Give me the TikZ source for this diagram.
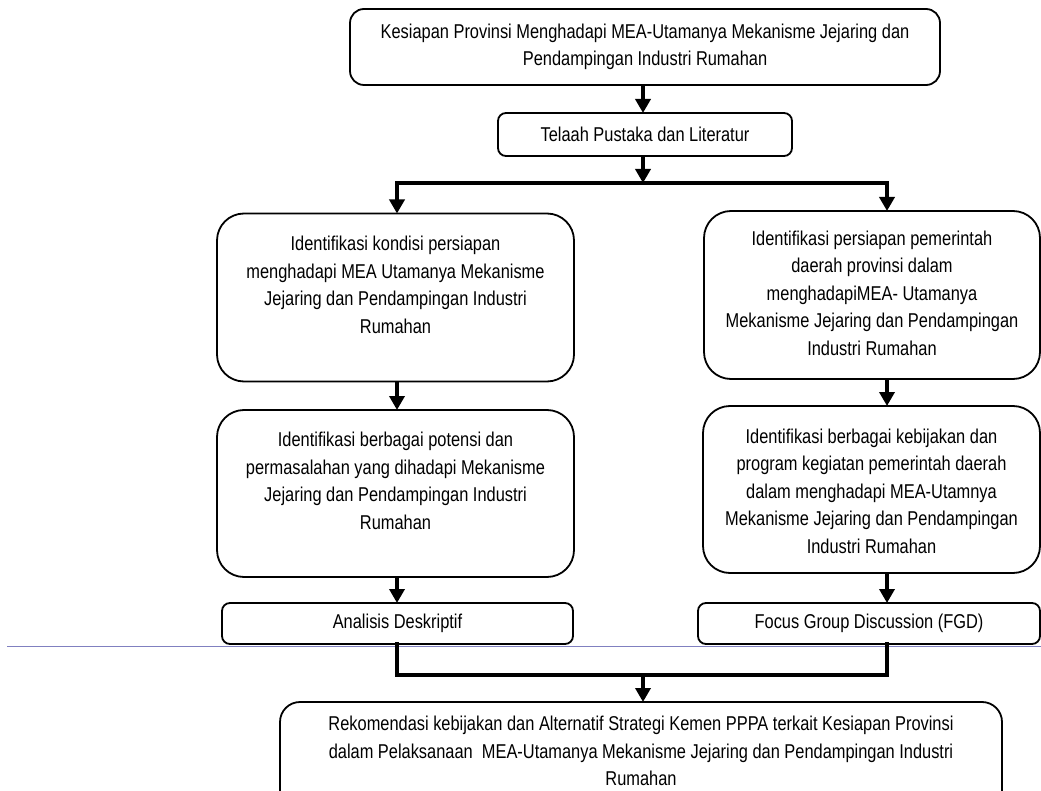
\documentclass[tikz,border=0pt]{standalone}
\usepackage{fontspec}
\setmainfont{Liberation Sans}[FakeStretch=0.82]
\usetikzlibrary{arrows.meta,calc}
\definecolor{garisungu}{RGB}{128,128,192}
\begin{document}
\begin{tikzpicture}[x=1pt,y=-1pt,
  kotak/.style={draw=black, line width=1.8pt, inner sep=0pt, outer sep=0pt},
  teks/.style={align=center, inner sep=0pt, font=\fontsize{20pt}{27.5pt}\selectfont},
  panah/.style={line width=4pt, -{Triangle[length=14pt,width=15pt]}},
  garis/.style={line width=4pt, line cap=rect},
]
\useasboundingbox (0,0) rectangle (1041,791);
\clip (0,0) rectangle (1041,791);

% thin separator line across the page
\coordinate (biruA) at (7,646.5);
\coordinate (biruB) at (1041,646.5);
\draw[garisungu, line width=1.3pt] (biruA) -- (biruB);

% boxes
\node[kotak, teks, rounded corners=14pt, minimum width=590pt, minimum height=76pt] (mulai) at (645,47)
  {Kesiapan Provinsi Menghadapi MEA-Utamanya Mekanisme Jejaring dan\\Pendampingan Industri Rumahan};
\node[kotak, teks, rounded corners=8pt, minimum width=294pt, minimum height=43pt] (telaah) at (645,134.5)
  {Telaah Pustaka dan Literatur};

\node[kotak, rounded corners=27pt, minimum width=357pt, minimum height=168pt] (kiri1) at (395.5,297.5) {};
\node[teks] (kiri1t) at (395.5,285)
  {Identifikasi kondisi persiapan\\menghadapi MEA Utamanya Mekanisme\\Jejaring dan Pendampingan Industri\\Rumahan};

\node[kotak, rounded corners=27pt, minimum width=336pt, minimum height=168pt] (kanan1) at (872,295) {};
\node[teks] (kanan1t) at (872,293)
  {Identifikasi persiapan pemerintah\\daerah provinsi dalam\\menghadapiMEA- Utamanya\\Mekanisme Jejaring dan Pendampingan\\Industri Rumahan};

\node[kotak, rounded corners=27pt, minimum width=357pt, minimum height=167pt] (kiri2) at (395.5,493.5) {};
\node[teks] (kiri2t) at (395.5,481)
  {Identifikasi berbagai potensi dan\\permasalahan yang dihadapi Mekanisme\\Jejaring dan Pendampingan Industri\\Rumahan};

\node[kotak, rounded corners=27pt, minimum width=337pt, minimum height=167pt] (kanan2) at (871.5,489.5) {};
\node[teks] (kanan2t) at (871.5,491)
  {Identifikasi berbagai kebijakan dan\\program kegiatan pemerintah daerah\\dalam menghadapi MEA-Utamnya\\Mekanisme Jejaring dan Pendampingan\\Industri Rumahan};

\node[kotak, teks, rounded corners=8pt, minimum width=351pt, minimum height=41pt] (analisis) at (397.5,623.5)
  {Analisis Deskriptif};
\node[kotak, teks, rounded corners=8pt, minimum width=342pt, minimum height=41pt] (fgd) at (869,623.5)
  {Focus Group Discussion (FGD)};

\node[kotak, rounded corners=20pt, minimum width=722pt, minimum height=118pt] (bawah) at (641,761) {};
\node[teks] (bawaht) at (641,751)
  {Rekomendasi kebijakan dan Alternatif Strategi Kemen PPPA terkait Kesiapan Provinsi\\dalam Pelaksanaan\ \ MEA-Utamanya Mekanisme Jejaring dan Pendampingan Industri\\Rumahan};

% connector junctions
\coordinate (cL) at (397,183);
\coordinate (cM) at (643,183);
\coordinate (cR) at (887,183);
\coordinate (bL) at (397,675);
\coordinate (bM) at (643,675);
\coordinate (bR) at (887,675);

% connectors
\draw[panah] (mulai.south -| cM) -- (telaah.north -| cM);
\draw[panah] (telaah.south -| cM) -- (cM);
\draw[garis] (cL) -- (cR);
\draw[panah] (cL) -- (kiri1.north -| cL);
\draw[panah] (cR) -- (kanan1.north -| cR);
\draw[panah] (kiri1.south -| cL) -- (kiri2.north -| cL);
\draw[panah] (kanan1.south -| cR) -- (kanan2.north -| cR);
\draw[panah] (kiri2.south -| cL) -- (analisis.north -| cL);
\draw[panah] (kanan2.south -| cR) -- (fgd.north -| cR);
\draw[garis] (analisis.south -| bL) -- (bL) -- (bR) -- (fgd.south -| bR);
\draw[panah] (bM) -- (bawah.north -| bM);
\end{tikzpicture}
\end{document}
